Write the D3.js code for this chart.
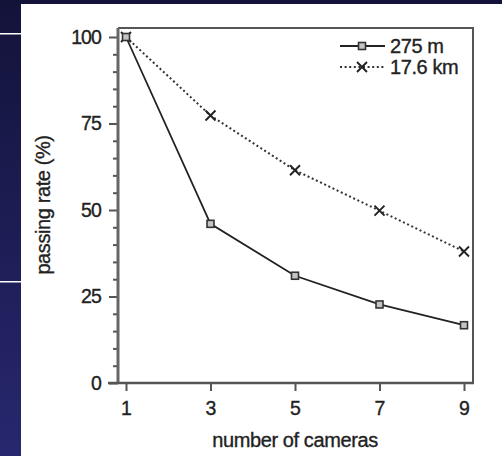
<!DOCTYPE html>
<html>
<head>
<meta charset="utf-8">
<script src="https://cdn.jsdelivr.net/npm/d3@7"></script>
<style>
  html, body { margin: 0; padding: 0; background: #1a1a4a; }
  svg { display: block; }
</style>
</head>
<body>
<script>
// Passing rate vs. number of cameras, for two camera spacings
const cameras = [1, 3, 5, 7, 9];
const rate275m = [100, 46, 31, 22.7, 16.7];
const rate17km = [100, 77.3, 61.5, 49.8, 38];
const seriesNames = ["275 m", "17.6 km"];
const yMajorTicks = [0, 25, 50, 75, 100];
const yMinorTicks = d3.range(0, 101, 5);

const W = 502, H = 456;
const svg = d3.select("body").append("svg").attr("width", W).attr("height", H);

// slide backdrop
const defs = svg.append("defs");
const grad = defs.append("linearGradient").attr("id", "bg").attr("x1", 0).attr("y1", 0).attr("x2", 0).attr("y2", 1);
grad.append("stop").attr("offset", "0%").attr("stop-color", "#13133a");
grad.append("stop").attr("offset", "100%").attr("stop-color", "#27276f");
svg.append("rect").attr("width", W).attr("height", H).attr("fill", "url(#bg)");
svg.append("rect").attr("x", 0).attr("y", 33).attr("width", 21).attr("height", 1.5).attr("fill", "#ffffff");
svg.append("rect").attr("x", 0).attr("y", 281).attr("width", 21).attr("height", 1.5).attr("fill", "#ffffff");
svg.append("rect").attr("x", 21).attr("y", 4).attr("width", W - 21).attr("height", H - 4).attr("fill", "#ffffff");

// plot frame
const frame = { left: 118, right: 473, top: 28, bottom: 383 };
const x = d3.scaleLinear().domain([1, 9]).range([126, 464]);
const y = d3.scaleLinear().domain([0, 100]).range([383, 37]);

const ink = "#222222";
const font = "'Liberation Sans', Arial, Helvetica, sans-serif";

// gives the text a slightly heavier, print-like weight
function inkText(sel, size, spacing) {
  return sel.attr("font-family", font).attr("font-size", size).attr("fill", ink)
    .attr("stroke", ink).attr("stroke-width", 0.35).attr("letter-spacing", spacing);
}

svg.append("path")
  .attr("d", `M${frame.left},${frame.top}H${frame.right}V${frame.bottom}`)
  .attr("fill", "none").attr("stroke", "#555").attr("stroke-width", 2);

// y axis
const yAxis = d3.axisLeft(y).tickValues(yMajorTicks).tickSize(9).tickSizeOuter(0).tickPadding(8);
const gy = svg.append("g").attr("transform", `translate(${frame.left},0)`).call(yAxis);
gy.select(".domain").remove();
gy.selectAll(".tick line").attr("stroke", "#555").attr("stroke-width", 2);
inkText(gy.selectAll(".tick text"), 19.5, -0.9);
const yMinor = d3.axisLeft(y).tickValues(yMinorTicks.filter(v => !yMajorTicks.includes(v))).tickSize(5).tickFormat("");
const gym = svg.append("g").attr("transform", `translate(${frame.left},0)`).call(yMinor);
gym.select(".domain").remove();
gym.selectAll(".tick line").attr("stroke", "#555").attr("stroke-width", 2);
svg.append("line").attr("x1", frame.left).attr("x2", frame.left).attr("y1", frame.top).attr("y2", frame.bottom + 1)
  .attr("stroke", "#666").attr("stroke-width", 3);

// x axis
const xAxis = d3.axisBottom(x).tickValues(cameras).tickSize(8).tickSizeOuter(0).tickPadding(10);
const gx = svg.append("g").attr("transform", `translate(0,${frame.bottom})`).call(xAxis);
gx.select(".domain").remove();
gx.selectAll(".tick line").attr("stroke", "#555").attr("stroke-width", 2);
inkText(gx.selectAll(".tick text"), 19.5, 0);
svg.append("line").attr("x1", 108).attr("x2", frame.right + 1).attr("y1", frame.bottom).attr("y2", frame.bottom)
  .attr("stroke", "#555").attr("stroke-width", 2.5);

// axis titles
inkText(svg.append("text").attr("x", 295).attr("y", 447).attr("text-anchor", "middle"), 20, -0.4)
  .text("number of cameras");
inkText(svg.append("text").attr("transform", "translate(50,205) rotate(-90)").attr("text-anchor", "middle"), 20, -0.4)
  .text("passing rate (%)");

// series
const line = d3.line().x(d => x(d[0])).y(d => y(d[1]));
const pts275 = cameras.map((c, i) => [c, rate275m[i]]);
const pts17 = cameras.map((c, i) => [c, rate17km[i]]);

svg.append("path").attr("d", line(pts17)).attr("fill", "none").attr("stroke", "#333")
  .attr("stroke-width", 2).attr("stroke-dasharray", "2,2.6");
svg.append("path").attr("d", line(pts275)).attr("fill", "none").attr("stroke", ink).attr("stroke-width", 1.8);

function square(g, cx, cy) {
  g.append("rect").attr("x", cx - 3.5).attr("y", cy - 3.5).attr("width", 7).attr("height", 7)
    .attr("fill", "#c4c4c4").attr("stroke", "#333").attr("stroke-width", 1.6);
}
function cross(g, cx, cy) {
  const s = 5;
  g.append("path").attr("d", `M${cx - s},${cy - s}L${cx + s},${cy + s}M${cx - s},${cy + s}L${cx + s},${cy - s}`)
    .attr("stroke", ink).attr("stroke-width", 1.9).attr("fill", "none");
}
const gm = svg.append("g");
pts17.forEach(p => cross(gm, x(p[0]), y(p[1])));
pts275.forEach(p => square(gm, x(p[0]), y(p[1])));

// legend
const lg = svg.append("g");
const legRows = [46, 67];
lg.append("line").attr("x1", 340).attr("x2", 385).attr("y1", legRows[0]).attr("y2", legRows[0])
  .attr("stroke", ink).attr("stroke-width", 1.8);
square(lg, 362, legRows[0]);
lg.append("line").attr("x1", 340).attr("x2", 385).attr("y1", legRows[1]).attr("y2", legRows[1])
  .attr("stroke", "#333").attr("stroke-width", 2).attr("stroke-dasharray", "2,2.6");
cross(lg, 362, legRows[1]);
seriesNames.forEach((n, i) => {
  inkText(lg.append("text").attr("x", 390).attr("y", legRows[i] + 7), 20, -0.4).text(n);
});
</script>
</body>
</html>
